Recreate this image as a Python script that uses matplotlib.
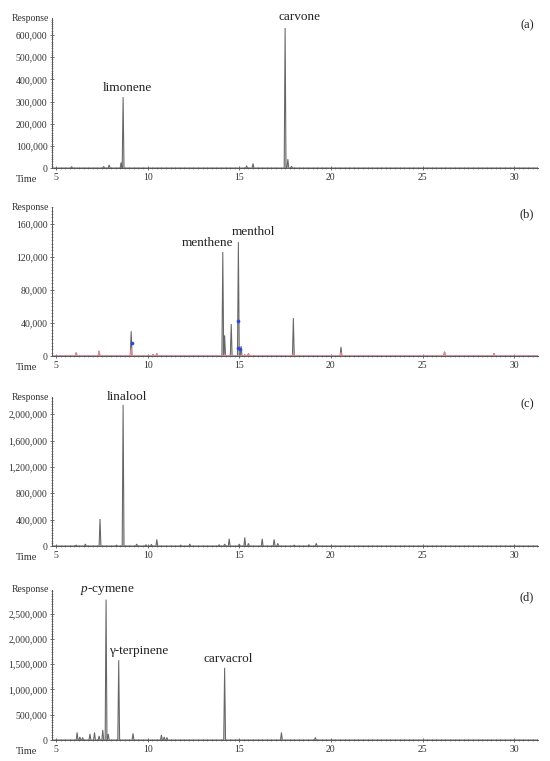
import matplotlib
matplotlib.use("Agg")
import matplotlib.pyplot as plt
import numpy as np
from matplotlib.ticker import MultipleLocator, FuncFormatter

plt.rcParams['font.family'] = ['Liberation Serif', 'DejaVu Serif']
plt.rcParams['mathtext.fontset'] = 'custom'
plt.rcParams['mathtext.rm'] = 'Liberation Serif'
plt.rcParams['mathtext.it'] = 'Liberation Serif:italic'

# ---------------- data (retention time in min, response) ----------------
a_times = [5.85, 7.6, 7.9, 8.55, 8.66, 15.4, 15.75, 17.5, 17.65, 17.85]
a_heights = [6000, 7000, 14000, 25000, 320000, 10000, 20000, 632000, 40000, 8000]

b_times = [6.1, 7.35, 9.1, 10.3, 10.5, 14.1, 14.2, 14.56, 14.95, 15.1, 15.5, 17.95, 20.55, 26.2, 28.9]
b_heights = [4000, 6000, 30000, 2000, 3000, 126000, 25000, 38800, 138000, 12000, 3000, 46000, 11000, 5000, 3000]
b_pink_times = [6.1, 7.35, 9.1, 10.3, 10.5, 14.2, 15.3, 15.5, 17.95, 20.55, 26.2, 28.9]
b_pink_heights = [4000, 6000, 9000, 2000, 3000, 2000, 2000, 2000, 3000, 4000, 5000, 3000]
b_blue_times = [9.12, 14.95, 14.95, 15.05]
b_blue_heights = [16000, 43000, 10000, 8000]

c_times = [6.1, 6.6, 7.4, 8.3, 8.66, 9.4, 9.9, 10.2, 10.5, 11.8, 12.3, 13.9, 14.2, 14.45, 15.0, 15.3, 15.5,
           16.25, 16.9, 17.1, 18.0, 18.8, 19.2]
c_heights = [15000, 30000, 410000, 15000, 2140000, 30000, 20000, 25000, 100000, 15000, 30000, 20000, 30000,
             110000, 30000, 130000, 40000, 110000, 100000, 40000, 15000, 20000, 40000]

d_times = [6.15, 6.3, 6.45, 6.85, 7.1, 7.35, 7.55, 7.73, 7.85, 8.42, 9.2, 10.75, 10.9, 11.05, 14.2, 17.3, 19.15]
d_heights = [150000, 60000, 50000, 120000, 150000, 80000, 200000, 2780000, 120000, 1580000, 130000, 100000,
             60000, 50000, 1430000, 150000, 50000]

panel_tags = ['(a)', '(b)', '(c)', '(d)']
y_max = [677000, 180600, 2260000, 2970000]
y_major = [100000, 40000, 400000, 500000]
y_minor = [10000, 4000, 40000, 50000]

a_labels = [('limonene', 8.88, 361000), ('carvone', 18.3, 681000)]
b_labels = [('menthene', 13.25, 137000), ('menthol', 15.76, 150000)]
c_labels = [('linalool', 8.88, 2260000)]
d_labels = [(r'$\mathit{p}$-cymene', 7.8, 2960000), ('γ-terpinene', 9.5, 1760000), ('carvacrol', 14.4, 1600000)]

X_MIN, X_MAX = 4.78, 31.3
HALF_W = 0.05


def trace(times, heights):
    order = np.argsort(times)
    xs, ys = [X_MIN], [0]
    for i in order:
        t, h = times[i], heights[i]
        xs += [t - HALF_W, t, t + HALF_W]
        ys += [0, h, 0]
    xs.append(X_MAX)
    ys.append(0)
    return xs, ys


fig = plt.figure(figsize=(5.5, 7.61), dpi=100)
L, W = 52 / 550, 486 / 550
tops_px = [18, 207, 397, 590]
bots_px = [168, 356, 546, 740]

series = [(a_times, a_heights), (b_times, b_heights), (c_times, c_heights), (d_times, d_heights)]
labels = [a_labels, b_labels, c_labels, d_labels]

for k in range(4):
    top, bot = tops_px[k], bots_px[k]
    ax = fig.add_axes([L, 1 - bot / 761, W, (bot - top) / 761])
    times, heights = series[k]
    xs, ys = trace(times, heights)
    ax.fill(xs, ys, color='#cfcfcf', lw=0)
    ax.plot(xs, ys, color='#666666', lw=0.75, solid_joinstyle='miter')
    if k == 1:
        px, py = trace(b_pink_times, b_pink_heights)
        ax.plot(px, py, color='#e08a9c', lw=0.9)
        ax.scatter(b_blue_times, b_blue_heights, s=7, color='#2848e0', zorder=5, lw=0)
    ax.set_xlim(X_MIN, X_MAX)
    ax.set_ylim(0, y_max[k])
    for s in ['top', 'right']:
        ax.spines[s].set_visible(False)
    for s in ['left', 'bottom']:
        ax.spines[s].set_color('#555555')
        ax.spines[s].set_linewidth(0.7)
    ax.xaxis.set_major_locator(MultipleLocator(5))
    ax.xaxis.set_minor_locator(MultipleLocator(0.25))
    ax.yaxis.set_major_locator(MultipleLocator(y_major[k]))
    ax.yaxis.set_minor_locator(MultipleLocator(y_minor[k]))
    ax.yaxis.set_major_formatter(FuncFormatter(lambda v, p: f"{int(round(v)):,}"))
    ax.tick_params(axis='both', which='major', labelsize=7, length=2.5, width=0.6,
                   direction='inout', color='#555555', pad=2, labelcolor='#333333')
    ax.tick_params(axis='both', which='minor', length=1.8, width=0.5, direction='inout', color='#777777')
    ax.text(-0.006, 1.0, 'Response', transform=ax.transAxes, ha='right', va='center',
            fontsize=7, color='#333333')
    ax.text(-0.053, -0.075, 'Time', transform=ax.transAxes, ha='center', va='center',
            fontsize=7.5, color='#333333')
    ax.text(0.977, 0.953, panel_tags[k], transform=ax.transAxes, ha='center', va='center',
            fontsize=9, color='#222222')
    for txt, tx, ty in labels[k]:
        ax.text(tx, ty, txt, ha='center', va='center', fontsize=9.5, color='#222222', clip_on=False)

fig.savefig('out.png', dpi=100, facecolor='white')
